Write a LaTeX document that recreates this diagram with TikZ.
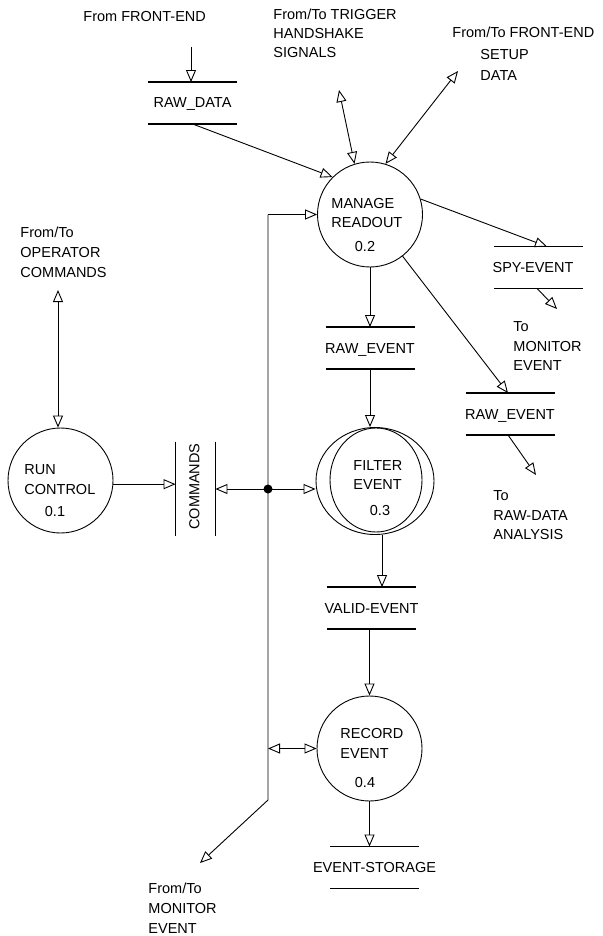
\documentclass[tikz,border=0pt]{standalone}
\usepackage{fontspec}
\setmainfont{Liberation Sans}
\usetikzlibrary{arrows.meta,shapes.geometric}
\newcommand{\dfdfont}{\fontsize{14.5}{17}\selectfont}
\begin{document}
\begin{tikzpicture}[x=1pt,y=-1pt,
  line width=0.9pt,
  arr/.style={-{Triangle[open,length=12pt,width=10pt]}},
  darr/.style={{Triangle[open,length=12pt,width=10pt]}-{Triangle[open,length=12pt,width=10pt]}},
  proc/.style={circle,draw,minimum size=105pt,inner sep=0pt},
  store/.style={minimum width=89pt,minimum height=41pt,inner sep=0pt,font=\dfdfont,text height=10pt,text depth=0pt},
  sline/.style={line width=1.6pt},
  txt/.style={anchor=base west,inner sep=0pt,font=\dfdfont},
  ctxt/.style={anchor=base,inner sep=0pt,font=\dfdfont}]
\useasboundingbox (0,0) rectangle (602,936);

% processes
\node[proc] (mr) at (370,214.5) {};
\node[proc] (runc) at (60.5,480.5) {};
\node[proc] (rec) at (369.5,748.5) {};
\node[ellipse,draw,minimum width=118pt,minimum height=107pt,inner sep=0pt] (fo) at (375,481) {};
\node[ellipse,draw,minimum width=92pt,minimum height=104pt,inner sep=0pt] (fi) at (376,480) {};

% stores
\node[store] (rawdata) at (192.5,103) {RAW\_DATA};
\node[store] (rawev) at (370,348) {RAW\_EVENT};
\node[store] (spy) at (538.5,267.5) {};
\node[ctxt] (spyt) at (533,272.5) {SPY-EVENT};
\node[store] (rawev2) at (510,414) {RAW\_EVENT};
\node[store] (valid) at (371.5,608) {VALID-EVENT};
\node[store] (stor) at (374.5,867.5) {EVENT-STORAGE};
\foreach \s in {rawdata,rawev,spy,rawev2,valid,stor}
  \draw[sline] ([xshift=-44.5pt]\s.north) -- ([xshift=44.5pt]\s.north)
               ([xshift=-44.5pt]\s.south) -- ([xshift=44.5pt]\s.south);

\node[minimum width=39pt,minimum height=94pt,inner sep=0pt] (cmd) at (195.5,489) {};
\draw (cmd.north west) -- (cmd.south west) (cmd.north east) -- (cmd.south east);
\node[rotate=90,inner sep=0pt,font=\dfdfont] (cmdt) at (194.5,486.5) {COMMANDS};

% process texts
\node[txt] (mr1) at (331,208) {MANAGE};
\node[txt] (mr2) at (331,227) {READOUT};
\node[ctxt] (mr3) at (365,251) {0.2};
\node[txt] (rc1) at (24,474) {RUN};
\node[txt] (rc2) at (24,494) {CONTROL};
\node[ctxt] (rc3) at (55,516) {0.1};
\node[txt] (fe1) at (353,470) {FILTER};
\node[txt] (fe2) at (353,489) {EVENT};
\node[ctxt] (fe3) at (380,515) {0.3};
\node[txt] (re1) at (340,738) {RECORD};
\node[txt] (re2) at (340,758) {EVENT};
\node[ctxt] (re3) at (365,787) {0.4};

% external texts
\node[txt] (t1) at (83,22) {From FRONT-END};
\node[txt] (t2a) at (273,20) {From/To TRIGGER};
\node[txt] (t2b) at (273,38.5) {HANDSHAKE};
\node[txt] (t2c) at (273,58) {SIGNALS};
\node[txt] (t3a) at (452,38) {From/To FRONT-END};
\node[txt] (t3b) at (480,60) {SETUP};
\node[txt] (t3c) at (480,81) {DATA};
\node[txt] (t4a) at (20,237) {From/To};
\node[txt] (t4b) at (20,257) {OPERATOR};
\node[txt] (t4c) at (20,277) {COMMANDS};
\node[txt] (t5a) at (513,331) {To};
\node[txt] (t5b) at (513,351) {MONITOR};
\node[txt] (t5c) at (513,370) {EVENT};
\node[txt] (t6a) at (493,500) {To};
\node[txt] (t6b) at (493,520) {RAW-DATA};
\node[txt] (t6c) at (493,539) {ANALYSIS};
\node[txt] (t7a) at (148,893) {From/To};
\node[txt] (t7b) at (148,913) {MONITOR};
\node[txt] (t7c) at (148,933) {EVENT};

% free ends
\coordinate (feTop) at (191,47);
\coordinate (trig) at (339,90);
\coordinate (fes) at (458,71);
\coordinate (busTop) at (268,214.5);
\coordinate (busBot) at (268,800);
\coordinate (monTip) at (200,863);
\coordinate (spyOut) at (557,309);
\coordinate (rawOut) at (536,475);
\coordinate (op) at (58,290);
\coordinate (dot) at (268,489);

% connectors
\draw[arr] (feTop) -- (feTop |- rawdata.north);
\draw[arr] (rawdata.south) -- (mr.135);
\draw[darr] (trig) -- (mr.107);
\draw[darr] (fes) -- (mr.73);
\draw[arr] (busTop) -- (mr.west);
\draw[arr] (busTop) -- (busBot) -- (monTip);
\draw[arr] (mr.17) -- ([xshift=8.5pt]spy.north);
\draw[arr] ([xshift=-1.5pt]spy.south) -- (spyOut);
\draw[arr] (mr.south) -- (rawev.north);
\draw[arr] (rawev.south) -- (rawev.south |- fo.north);
\draw[arr] (mr.-52.5) -- ([xshift=-2pt]rawev2.north);
\draw[arr] ([xshift=-2pt]rawev2.south) -- (rawOut);
\draw[darr] (op) -- (op |- runc.north);
\draw[arr] (runc.-4.5) -- (runc.-4.5 -| cmd.west);
\draw[arr] (dot) -- (dot -| cmd.east);
\draw[arr] (dot) -- (dot -| fo.west);
\fill (dot) circle (4.5pt);
\draw[arr] ([xshift=7pt]fo.south) -- ([xshift=7pt]fo.south |- valid.north);
\draw[arr] (rec.north |- valid.south) -- (rec.north);
\draw[darr] (rec.west -| busTop) -- (rec.west);
\draw[arr] (rec.south) -- (rec.south |- stor.north);
\end{tikzpicture}
\end{document}
